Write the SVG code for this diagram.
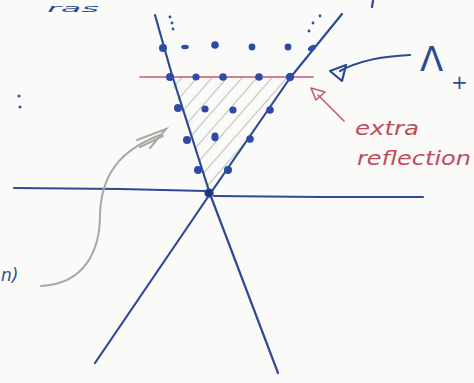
<svg xmlns="http://www.w3.org/2000/svg" width="474" height="383" viewBox="0 0 474 383">
<style>
.ink{fill:none;stroke:#2f4a94;stroke-width:2.2;stroke-linecap:round;stroke-linejoin:round}
.dot{fill:#2c4aa8}
.red{fill:none;stroke:#c85a6c;stroke-width:1.6;stroke-linecap:round;stroke-linejoin:round}
.hatch{stroke:#c8c8c0;stroke-width:1.2}
.gray{fill:none;stroke:#a8a8a4;stroke-width:2;stroke-linecap:round}
.hand{font-family:"DejaVu Sans",sans-serif;font-style:italic}
</style>
<defs>
<clipPath id="tri"><polygon points="170,78 290,78 210,192"/></clipPath>
</defs>
<rect width="474" height="383" fill="#fafaf8"/>
<text class="hand" x="47" y="12" font-size="11" fill="#2f4a94" textLength="52" lengthAdjust="spacingAndGlyphs">ras</text>
<line class="ink" x1="373" y1="1" x2="372" y2="7" stroke-width="1.6"/>
<g id="hatching" clip-path="url(#tri)">
<line class="hatch" x1="150" y1="200" x2="290" y2="40"/>
<line class="hatch" x1="165" y1="200" x2="305" y2="40"/>
<line class="hatch" x1="180" y1="200" x2="320" y2="40"/>
<line class="hatch" x1="195" y1="200" x2="335" y2="40"/>
<line class="hatch" x1="210" y1="200" x2="350" y2="40"/>
<line class="hatch" x1="135" y1="200" x2="275" y2="40"/>
<line class="hatch" x1="120" y1="200" x2="260" y2="40"/>
<line class="hatch" x1="105" y1="200" x2="245" y2="40"/>
<line class="hatch" x1="90" y1="200" x2="230" y2="40"/>
<line class="hatch" x1="75" y1="200" x2="215" y2="40"/>
</g>
<g id="connectors">
<polyline class="ink" points="155,15 172,75 210,194 278,373"/>
<polyline class="ink" points="342,14 290,78 210,194 95,363"/>
<polyline class="ink" points="14,188 120,189 205,191"/>
<polyline class="ink" points="214,196 320,197 423,197"/>
<line class="red" x1="140" y1="77" x2="313" y2="77"/>
<path class="ink" d="M410,55 C385,56 360,60 340,71" stroke-width="1.8"/>
<path class="ink" d="M330,71 L346,65 L342,81 Z" stroke-width="1.8"/>
<path class="red" d="M344,121 L318,95"/>
<path class="red" d="M311,88 L325,92 L316,100 Z"/>
<path class="gray" d="M41,286 C85,284 100,250 100,215 C101,175 120,150 160,135"/>
<path class="gray" d="M137,140 L166,129 L150,148 M140,147 L163,136"/>
</g>
<g id="lattice">
<circle class="dot" cx="163" cy="48" r="4"/>
<ellipse class="dot" cx="185" cy="47" rx="3.8" ry="2.2"/>
<circle class="dot" cx="215" cy="45" r="3.8"/>
<circle class="dot" cx="252" cy="47" r="3.4"/>
<circle class="dot" cx="288" cy="47" r="3.4"/>
<ellipse class="dot" cx="312" cy="48" rx="4.4" ry="2.6" transform="rotate(-30 312 48)"/>
<circle class="dot" cx="170" cy="77" r="4"/>
<circle class="dot" cx="196" cy="77" r="3.6"/>
<circle class="dot" cx="223" cy="77" r="3.8"/>
<circle class="dot" cx="259" cy="77" r="3.8"/>
<circle class="dot" cx="290" cy="77" r="4.2"/>
<circle class="dot" cx="178" cy="108" r="4"/>
<circle class="dot" cx="205" cy="109" r="3.6"/>
<circle class="dot" cx="233" cy="110" r="3.6"/>
<circle class="dot" cx="270" cy="110" r="3.8"/>
<circle class="dot" cx="187" cy="140" r="4"/>
<ellipse class="dot" cx="215" cy="137" rx="3.6" ry="4.4"/>
<circle class="dot" cx="250" cy="139" r="3.8"/>
<circle class="dot" cx="198" cy="170" r="4"/>
<circle class="dot" cx="228" cy="170" r="4"/>
<circle cx="209" cy="193" r="4" fill="#1e3270" stroke="#2c4aa8" stroke-width="1.5"/>
<circle class="dot" cx="170" cy="17" r="1.4"/>
<circle class="dot" cx="172" cy="23" r="1.4"/>
<circle class="dot" cx="173" cy="29" r="1.4"/>
<circle class="dot" cx="320" cy="16" r="1.4"/>
<circle class="dot" cx="313" cy="23" r="1.4"/>
<circle class="dot" cx="309" cy="31" r="1.4"/>
<circle class="dot" cx="19" cy="96" r="1.5"/>
<circle class="dot" cx="20" cy="107" r="1.5"/>
</g>
<g id="lambda">
<text x="420" y="71" font-size="34" fill="#2f4a94" font-family="DejaVu Sans,sans-serif">Λ</text>
<text x="451" y="89" font-size="20" fill="#2f4a94" font-family="DejaVu Sans,sans-serif">+</text>
</g>
<g id="extra-reflection">
<text class="hand" x="355" y="135" font-size="20" fill="#c04a5c" textLength="64" lengthAdjust="spacingAndGlyphs">extra</text>
<text class="hand" x="357" y="165" font-size="20" fill="#c04a5c" textLength="114" lengthAdjust="spacingAndGlyphs">reflection</text>
</g>
<text class="hand" x="1" y="281" font-size="17" fill="#2f4a94">n)</text>
</svg>
